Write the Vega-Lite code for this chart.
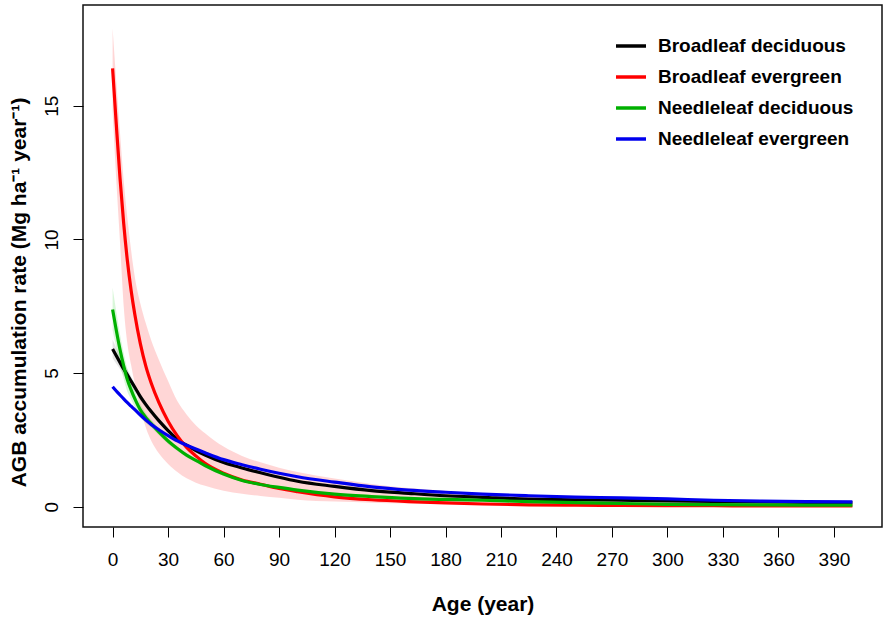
{
  "$schema": "https://vega.github.io/schema/vega-lite/v6.json",
  "width": 799,
  "height": 522,
  "autosize": {"type": "none"},
  "padding": {"left": 83, "top": 5, "right": 6, "bottom": 97},
  "background": "white",
  "config": {
    "view": {"stroke": "#111111", "strokeWidth": 1.5},
    "font": "Liberation Sans"
  },
  "datasets": {
    "lines": [
      {"type": "Broadleaf deciduous", "age": 0, "rate": 5.9},
      {"type": "Broadleaf deciduous", "age": 2, "rate": 5.65},
      {"type": "Broadleaf deciduous", "age": 4, "rate": 5.4},
      {"type": "Broadleaf deciduous", "age": 6, "rate": 5.15},
      {"type": "Broadleaf deciduous", "age": 8, "rate": 4.93},
      {"type": "Broadleaf deciduous", "age": 10, "rate": 4.7},
      {"type": "Broadleaf deciduous", "age": 12, "rate": 4.47},
      {"type": "Broadleaf deciduous", "age": 15, "rate": 4.12},
      {"type": "Broadleaf deciduous", "age": 18, "rate": 3.82},
      {"type": "Broadleaf deciduous", "age": 21, "rate": 3.55},
      {"type": "Broadleaf deciduous", "age": 25, "rate": 3.22},
      {"type": "Broadleaf deciduous", "age": 30, "rate": 2.85},
      {"type": "Broadleaf deciduous", "age": 35, "rate": 2.52},
      {"type": "Broadleaf deciduous", "age": 40, "rate": 2.3},
      {"type": "Broadleaf deciduous", "age": 45, "rate": 2.1},
      {"type": "Broadleaf deciduous", "age": 50, "rate": 1.93},
      {"type": "Broadleaf deciduous", "age": 60, "rate": 1.65},
      {"type": "Broadleaf deciduous", "age": 70, "rate": 1.45},
      {"type": "Broadleaf deciduous", "age": 80, "rate": 1.27},
      {"type": "Broadleaf deciduous", "age": 90, "rate": 1.1},
      {"type": "Broadleaf deciduous", "age": 100, "rate": 0.95},
      {"type": "Broadleaf deciduous", "age": 120, "rate": 0.76},
      {"type": "Broadleaf deciduous", "age": 140, "rate": 0.6},
      {"type": "Broadleaf deciduous", "age": 160, "rate": 0.5},
      {"type": "Broadleaf deciduous", "age": 180, "rate": 0.41},
      {"type": "Broadleaf deciduous", "age": 200, "rate": 0.35},
      {"type": "Broadleaf deciduous", "age": 225, "rate": 0.28},
      {"type": "Broadleaf deciduous", "age": 250, "rate": 0.26},
      {"type": "Broadleaf deciduous", "age": 275, "rate": 0.24},
      {"type": "Broadleaf deciduous", "age": 300, "rate": 0.22},
      {"type": "Broadleaf deciduous", "age": 325, "rate": 0.2},
      {"type": "Broadleaf deciduous", "age": 350, "rate": 0.18},
      {"type": "Broadleaf deciduous", "age": 375, "rate": 0.16},
      {"type": "Broadleaf deciduous", "age": 400, "rate": 0.15},
      {"type": "Broadleaf evergreen", "age": 0, "rate": 16.4},
      {"type": "Broadleaf evergreen", "age": 2, "rate": 14.3},
      {"type": "Broadleaf evergreen", "age": 4, "rate": 12.3},
      {"type": "Broadleaf evergreen", "age": 6, "rate": 10.6},
      {"type": "Broadleaf evergreen", "age": 8, "rate": 9.2},
      {"type": "Broadleaf evergreen", "age": 10, "rate": 8.1},
      {"type": "Broadleaf evergreen", "age": 12, "rate": 7.2},
      {"type": "Broadleaf evergreen", "age": 15, "rate": 6.1},
      {"type": "Broadleaf evergreen", "age": 18, "rate": 5.25},
      {"type": "Broadleaf evergreen", "age": 21, "rate": 4.6},
      {"type": "Broadleaf evergreen", "age": 25, "rate": 3.9},
      {"type": "Broadleaf evergreen", "age": 30, "rate": 3.2},
      {"type": "Broadleaf evergreen", "age": 35, "rate": 2.65},
      {"type": "Broadleaf evergreen", "age": 40, "rate": 2.22},
      {"type": "Broadleaf evergreen", "age": 45, "rate": 1.9},
      {"type": "Broadleaf evergreen", "age": 50, "rate": 1.62},
      {"type": "Broadleaf evergreen", "age": 60, "rate": 1.25},
      {"type": "Broadleaf evergreen", "age": 70, "rate": 1.0},
      {"type": "Broadleaf evergreen", "age": 80, "rate": 0.84},
      {"type": "Broadleaf evergreen", "age": 90, "rate": 0.68},
      {"type": "Broadleaf evergreen", "age": 100, "rate": 0.56},
      {"type": "Broadleaf evergreen", "age": 120, "rate": 0.37},
      {"type": "Broadleaf evergreen", "age": 140, "rate": 0.26},
      {"type": "Broadleaf evergreen", "age": 160, "rate": 0.19},
      {"type": "Broadleaf evergreen", "age": 180, "rate": 0.14},
      {"type": "Broadleaf evergreen", "age": 200, "rate": 0.1},
      {"type": "Broadleaf evergreen", "age": 225, "rate": 0.07},
      {"type": "Broadleaf evergreen", "age": 250, "rate": 0.055},
      {"type": "Broadleaf evergreen", "age": 275, "rate": 0.045},
      {"type": "Broadleaf evergreen", "age": 300, "rate": 0.04},
      {"type": "Broadleaf evergreen", "age": 325, "rate": 0.035},
      {"type": "Broadleaf evergreen", "age": 350, "rate": 0.03},
      {"type": "Broadleaf evergreen", "age": 375, "rate": 0.03},
      {"type": "Broadleaf evergreen", "age": 400, "rate": 0.025},
      {"type": "Needleleaf deciduous", "age": 0, "rate": 7.38},
      {"type": "Needleleaf deciduous", "age": 2, "rate": 6.6},
      {"type": "Needleleaf deciduous", "age": 4, "rate": 5.88},
      {"type": "Needleleaf deciduous", "age": 6, "rate": 5.27},
      {"type": "Needleleaf deciduous", "age": 8, "rate": 4.75},
      {"type": "Needleleaf deciduous", "age": 10, "rate": 4.37},
      {"type": "Needleleaf deciduous", "age": 12, "rate": 4.04},
      {"type": "Needleleaf deciduous", "age": 15, "rate": 3.62},
      {"type": "Needleleaf deciduous", "age": 18, "rate": 3.33},
      {"type": "Needleleaf deciduous", "age": 21, "rate": 3.1},
      {"type": "Needleleaf deciduous", "age": 25, "rate": 2.8},
      {"type": "Needleleaf deciduous", "age": 30, "rate": 2.46},
      {"type": "Needleleaf deciduous", "age": 35, "rate": 2.18},
      {"type": "Needleleaf deciduous", "age": 40, "rate": 1.93},
      {"type": "Needleleaf deciduous", "age": 45, "rate": 1.73},
      {"type": "Needleleaf deciduous", "age": 50, "rate": 1.54},
      {"type": "Needleleaf deciduous", "age": 60, "rate": 1.22},
      {"type": "Needleleaf deciduous", "age": 70, "rate": 0.98},
      {"type": "Needleleaf deciduous", "age": 80, "rate": 0.83},
      {"type": "Needleleaf deciduous", "age": 90, "rate": 0.72},
      {"type": "Needleleaf deciduous", "age": 100, "rate": 0.62},
      {"type": "Needleleaf deciduous", "age": 120, "rate": 0.47},
      {"type": "Needleleaf deciduous", "age": 140, "rate": 0.38},
      {"type": "Needleleaf deciduous", "age": 160, "rate": 0.31},
      {"type": "Needleleaf deciduous", "age": 180, "rate": 0.27},
      {"type": "Needleleaf deciduous", "age": 200, "rate": 0.24},
      {"type": "Needleleaf deciduous", "age": 225, "rate": 0.19},
      {"type": "Needleleaf deciduous", "age": 250, "rate": 0.15},
      {"type": "Needleleaf deciduous", "age": 275, "rate": 0.12},
      {"type": "Needleleaf deciduous", "age": 300, "rate": 0.09},
      {"type": "Needleleaf deciduous", "age": 325, "rate": 0.075},
      {"type": "Needleleaf deciduous", "age": 350, "rate": 0.065},
      {"type": "Needleleaf deciduous", "age": 375, "rate": 0.06},
      {"type": "Needleleaf deciduous", "age": 400, "rate": 0.06},
      {"type": "Needleleaf evergreen", "age": 0, "rate": 4.49},
      {"type": "Needleleaf evergreen", "age": 2, "rate": 4.33},
      {"type": "Needleleaf evergreen", "age": 4, "rate": 4.18},
      {"type": "Needleleaf evergreen", "age": 6, "rate": 4.03},
      {"type": "Needleleaf evergreen", "age": 8, "rate": 3.89},
      {"type": "Needleleaf evergreen", "age": 10, "rate": 3.76},
      {"type": "Needleleaf evergreen", "age": 12, "rate": 3.63},
      {"type": "Needleleaf evergreen", "age": 15, "rate": 3.43},
      {"type": "Needleleaf evergreen", "age": 18, "rate": 3.24},
      {"type": "Needleleaf evergreen", "age": 21, "rate": 3.07},
      {"type": "Needleleaf evergreen", "age": 25, "rate": 2.88},
      {"type": "Needleleaf evergreen", "age": 30, "rate": 2.66},
      {"type": "Needleleaf evergreen", "age": 35, "rate": 2.46},
      {"type": "Needleleaf evergreen", "age": 40, "rate": 2.3},
      {"type": "Needleleaf evergreen", "age": 45, "rate": 2.16},
      {"type": "Needleleaf evergreen", "age": 50, "rate": 2.02},
      {"type": "Needleleaf evergreen", "age": 60, "rate": 1.76},
      {"type": "Needleleaf evergreen", "age": 70, "rate": 1.57},
      {"type": "Needleleaf evergreen", "age": 80, "rate": 1.4},
      {"type": "Needleleaf evergreen", "age": 90, "rate": 1.25},
      {"type": "Needleleaf evergreen", "age": 100, "rate": 1.12},
      {"type": "Needleleaf evergreen", "age": 120, "rate": 0.92},
      {"type": "Needleleaf evergreen", "age": 140, "rate": 0.74},
      {"type": "Needleleaf evergreen", "age": 160, "rate": 0.62},
      {"type": "Needleleaf evergreen", "age": 180, "rate": 0.54},
      {"type": "Needleleaf evergreen", "age": 200, "rate": 0.47},
      {"type": "Needleleaf evergreen", "age": 225, "rate": 0.41},
      {"type": "Needleleaf evergreen", "age": 250, "rate": 0.36},
      {"type": "Needleleaf evergreen", "age": 275, "rate": 0.33},
      {"type": "Needleleaf evergreen", "age": 300, "rate": 0.29},
      {"type": "Needleleaf evergreen", "age": 325, "rate": 0.24},
      {"type": "Needleleaf evergreen", "age": 350, "rate": 0.21},
      {"type": "Needleleaf evergreen", "age": 375, "rate": 0.19},
      {"type": "Needleleaf evergreen", "age": 400, "rate": 0.18}
    ],
    "bands": [
      {"type": "Broadleaf evergreen", "age": 0, "lo": 14.8, "hi": 17.9},
      {"type": "Broadleaf evergreen", "age": 2, "lo": 12.2, "hi": 15.9},
      {"type": "Broadleaf evergreen", "age": 4, "lo": 9.9, "hi": 14.0},
      {"type": "Broadleaf evergreen", "age": 6, "lo": 7.5, "hi": 12.2},
      {"type": "Broadleaf evergreen", "age": 8, "lo": 6.1, "hi": 10.8},
      {"type": "Broadleaf evergreen", "age": 10, "lo": 5.3, "hi": 9.6},
      {"type": "Broadleaf evergreen", "age": 12, "lo": 4.6, "hi": 8.6},
      {"type": "Broadleaf evergreen", "age": 15, "lo": 3.7, "hi": 7.6},
      {"type": "Broadleaf evergreen", "age": 18, "lo": 2.95, "hi": 6.85},
      {"type": "Broadleaf evergreen", "age": 21, "lo": 2.45, "hi": 6.2},
      {"type": "Broadleaf evergreen", "age": 25, "lo": 2.0, "hi": 5.5},
      {"type": "Broadleaf evergreen", "age": 30, "lo": 1.6, "hi": 4.7},
      {"type": "Broadleaf evergreen", "age": 35, "lo": 1.3, "hi": 3.95},
      {"type": "Broadleaf evergreen", "age": 40, "lo": 1.06, "hi": 3.45},
      {"type": "Broadleaf evergreen", "age": 45, "lo": 0.9, "hi": 3.05},
      {"type": "Broadleaf evergreen", "age": 50, "lo": 0.78, "hi": 2.75},
      {"type": "Broadleaf evergreen", "age": 60, "lo": 0.6, "hi": 2.25},
      {"type": "Broadleaf evergreen", "age": 70, "lo": 0.48, "hi": 1.9},
      {"type": "Broadleaf evergreen", "age": 80, "lo": 0.4, "hi": 1.66},
      {"type": "Broadleaf evergreen", "age": 90, "lo": 0.33, "hi": 1.46},
      {"type": "Broadleaf evergreen", "age": 100, "lo": 0.26, "hi": 1.3},
      {"type": "Broadleaf evergreen", "age": 120, "lo": 0.19, "hi": 1.05},
      {"type": "Broadleaf evergreen", "age": 140, "lo": 0.15, "hi": 0.85},
      {"type": "Broadleaf evergreen", "age": 160, "lo": 0.12, "hi": 0.7},
      {"type": "Broadleaf evergreen", "age": 180, "lo": 0.1, "hi": 0.6},
      {"type": "Broadleaf evergreen", "age": 200, "lo": 0.08, "hi": 0.5},
      {"type": "Broadleaf evergreen", "age": 225, "lo": 0.06, "hi": 0.42},
      {"type": "Broadleaf evergreen", "age": 250, "lo": 0.05, "hi": 0.36},
      {"type": "Broadleaf evergreen", "age": 275, "lo": 0.04, "hi": 0.3},
      {"type": "Broadleaf evergreen", "age": 300, "lo": 0.03, "hi": 0.26},
      {"type": "Broadleaf evergreen", "age": 325, "lo": 0.03, "hi": 0.22},
      {"type": "Broadleaf evergreen", "age": 350, "lo": 0.02, "hi": 0.2},
      {"type": "Broadleaf evergreen", "age": 375, "lo": 0.02, "hi": 0.18},
      {"type": "Broadleaf evergreen", "age": 400, "lo": 0.02, "hi": 0.16},
      {"type": "Needleleaf deciduous", "age": 0, "lo": 6.6, "hi": 8.2},
      {"type": "Needleleaf deciduous", "age": 2, "lo": 5.95, "hi": 7.3},
      {"type": "Needleleaf deciduous", "age": 4, "lo": 5.3, "hi": 6.45},
      {"type": "Needleleaf deciduous", "age": 6, "lo": 4.78, "hi": 5.75},
      {"type": "Needleleaf deciduous", "age": 8, "lo": 4.3, "hi": 5.15},
      {"type": "Needleleaf deciduous", "age": 10, "lo": 4.02, "hi": 4.7},
      {"type": "Needleleaf deciduous", "age": 12, "lo": 3.73, "hi": 4.32},
      {"type": "Needleleaf deciduous", "age": 15, "lo": 3.36, "hi": 3.85},
      {"type": "Needleleaf deciduous", "age": 18, "lo": 3.13, "hi": 3.5},
      {"type": "Needleleaf deciduous", "age": 21, "lo": 2.95, "hi": 3.25},
      {"type": "Needleleaf deciduous", "age": 25, "lo": 2.67, "hi": 2.93},
      {"type": "Needleleaf deciduous", "age": 30, "lo": 2.35, "hi": 2.55},
      {"type": "Needleleaf deciduous", "age": 35, "lo": 2.09, "hi": 2.25},
      {"type": "Needleleaf deciduous", "age": 40, "lo": 1.85, "hi": 1.99},
      {"type": "Needleleaf deciduous", "age": 45, "lo": 1.66, "hi": 1.78},
      {"type": "Needleleaf deciduous", "age": 50, "lo": 1.47, "hi": 1.59},
      {"type": "Needleleaf deciduous", "age": 60, "lo": 1.15, "hi": 1.28},
      {"type": "Needleleaf deciduous", "age": 70, "lo": 0.93, "hi": 1.03},
      {"type": "Needleleaf deciduous", "age": 80, "lo": 0.79, "hi": 0.87},
      {"type": "Needleleaf deciduous", "age": 90, "lo": 0.68, "hi": 0.76},
      {"type": "Needleleaf deciduous", "age": 100, "lo": 0.59, "hi": 0.66},
      {"type": "Broadleaf deciduous", "age": 0, "lo": 5.55, "hi": 6.25},
      {"type": "Broadleaf deciduous", "age": 2, "lo": 5.35, "hi": 5.95},
      {"type": "Broadleaf deciduous", "age": 4, "lo": 5.15, "hi": 5.65},
      {"type": "Broadleaf deciduous", "age": 6, "lo": 4.92, "hi": 5.38},
      {"type": "Broadleaf deciduous", "age": 8, "lo": 4.75, "hi": 5.15},
      {"type": "Broadleaf deciduous", "age": 10, "lo": 4.52, "hi": 4.88},
      {"type": "Broadleaf deciduous", "age": 12, "lo": 4.3, "hi": 4.6},
      {"type": "Broadleaf deciduous", "age": 15, "lo": 3.97, "hi": 4.23},
      {"type": "Broadleaf deciduous", "age": 18, "lo": 3.7, "hi": 3.9},
      {"type": "Broadleaf deciduous", "age": 21, "lo": 3.45, "hi": 3.62},
      {"type": "Broadleaf deciduous", "age": 25, "lo": 3.13, "hi": 3.27},
      {"type": "Broadleaf deciduous", "age": 30, "lo": 2.8, "hi": 2.9}
    ]
  },
  "layer": [
    {
      "data": {"name": "bands"},
      "transform": [{"filter": "datum.type === 'Broadleaf evergreen'"}],
      "mark": {"type": "area", "color": "#ff0000", "opacity": 0.16, "interpolate": "monotone"},
      "encoding": {
        "x": {"field": "age", "type": "quantitative"},
        "y": {"field": "lo", "type": "quantitative"},
        "y2": {"field": "hi"}
      }
    },
    {
      "data": {"name": "bands"},
      "transform": [{"filter": "datum.type === 'Needleleaf deciduous'"}],
      "mark": {"type": "area", "color": "#00c000", "opacity": 0.15, "interpolate": "monotone"},
      "encoding": {
        "x": {"field": "age", "type": "quantitative"},
        "y": {"field": "lo", "type": "quantitative"},
        "y2": {"field": "hi"}
      }
    },
    {
      "data": {"name": "bands"},
      "transform": [{"filter": "datum.type === 'Broadleaf deciduous'"}],
      "mark": {"type": "area", "color": "#000000", "opacity": 0.1, "interpolate": "monotone"},
      "encoding": {
        "x": {"field": "age", "type": "quantitative"},
        "y": {"field": "lo", "type": "quantitative"},
        "y2": {"field": "hi"}
      }
    },
    {
      "data": {"name": "lines"},
      "mark": {"type": "line", "strokeWidth": 3.2, "interpolate": "monotone"},
      "encoding": {
        "x": {
          "field": "age",
          "type": "quantitative",
          "scale": {"domain": [-16, 416], "nice": false, "zero": false},
          "axis": {
            "values": [0, 30, 60, 90, 120, 150, 180, 210, 240, 270, 300, 330, 360, 390],
            "grid": false,
            "domain": false,
            "tickColor": "#000000",
            "tickSize": 10,
            "tickWidth": 1,
            "labelFont": "Liberation Sans",
            "labelFontSize": 19,
            "labelColor": "#000000",
            "labelPadding": 13,
            "labelFlush": false,
            "labelOverlap": false,
            "title": "Age (year)",
            "titleFont": "Liberation Sans",
            "titleFontSize": 21,
            "titleFontWeight": "bold",
            "titleColor": "#000000",
            "titleBaseline": "alphabetic",
            "titleAlign": "center",
            "titleX": 399.5,
            "titleY": 83
          }
        },
        "y": {
          "field": "rate",
          "type": "quantitative",
          "scale": {"domain": [-0.76, 18.77], "nice": false, "zero": false},
          "axis": {
            "values": [0, 5, 10, 15],
            "grid": false,
            "domain": false,
            "tickColor": "#000000",
            "tickSize": 10,
            "tickWidth": 1,
            "labelFont": "Liberation Sans",
            "labelFontSize": 19,
            "labelColor": "#000000",
            "labelAngle": 270,
            "labelAlign": "center",
            "labelBaseline": "alphabetic",
            "labelPadding": 16,
            "labelFlush": false,
            "labelOverlap": false,
            "title": "AGB accumulation rate (Mg ha⁻¹ year⁻¹)",
            "titleFont": "Liberation Sans",
            "titleFontSize": 21,
            "titleFontWeight": "bold",
            "titleColor": "#000000",
            "titleAngle": 270,
            "titleAlign": "center",
            "titleBaseline": "alphabetic",
            "titleX": -58,
            "titleY": 287
          }
        },
        "color": {
          "field": "type",
          "type": "nominal",
          "scale": {
            "domain": ["Broadleaf deciduous", "Broadleaf evergreen", "Needleleaf deciduous", "Needleleaf evergreen"],
            "range": ["#000000", "#ff0000", "#00b000", "#0000ee"]
          },
          "legend": {
            "title": null,
            "orient": "none",
            "legendX": 531,
            "legendY": 24,
            "padding": 0,
            "symbolType": "stroke",
            "symbolSize": 900,
            "symbolStrokeWidth": 3.5,
            "labelFont": "Liberation Sans",
            "labelFontSize": 19,
            "labelFontWeight": "bold",
            "labelColor": "#000000",
            "labelOffset": 10,
            "rowPadding": 4,
            "labelLimit": 400
          }
        }
      }
    }
  ]
}
